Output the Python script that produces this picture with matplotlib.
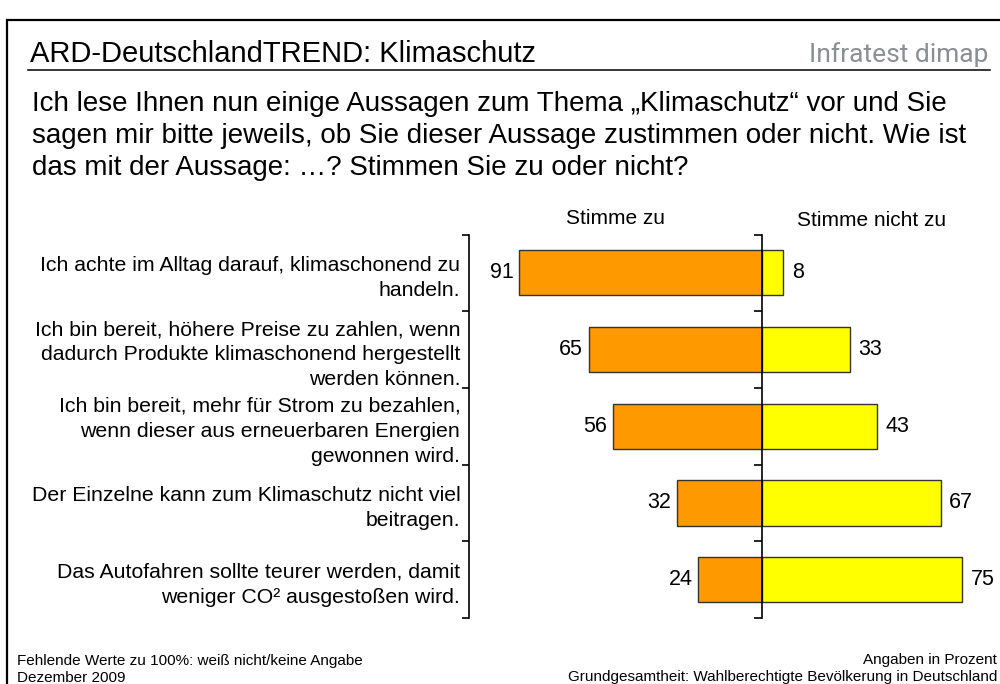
import numpy as np
import matplotlib.pyplot as plt
from matplotlib import font_manager
from matplotlib.patches import Rectangle
from matplotlib.lines import Line2D

# Zustimmung zu Aussagen zum Klimaschutz (Angaben in Prozent)
statements = [
    "Ich achte im Alltag darauf, klimaschonend zu\nhandeln.",
    "Ich bin bereit, höhere Preise zu zahlen, wenn\ndadurch Produkte klimaschonend hergestellt\nwerden können.",
    "Ich bin bereit, mehr für Strom zu bezahlen,\nwenn dieser aus erneuerbaren Energien\ngewonnen wird.",
    "Der Einzelne kann zum Klimaschutz nicht viel\nbeitragen.",
    "Das Autofahren sollte teurer werden, damit\nweniger CO² ausgestoßen wird.",
]
stimme_zu = [91, 65, 56, 32, 24]
stimme_nicht_zu = [8, 33, 43, 67, 75]

W, H = 1000, 684

def fx(x):
    return x / W

def fy(y):
    return 1 - y / H

names = {f.name for f in font_manager.fontManager.ttflist}
plt.rcParams['font.family'] = ['Liberation Sans', 'DejaVu Sans']

fig = plt.figure(figsize=(W / 100, H / 100), dpi=100)

# frame + header
fig.add_artist(Rectangle((fx(7), fy(720)), fx(1020), 700 / H, transform=fig.transFigure,
                         fill=False, edgecolor='black', lw=1.6, clip_on=False))
fig.text(fx(30), fy(62), "ARD-DeutschlandTREND: Klimaschutz", fontsize=21, va='baseline')
if "Liberation Sans Narrow" in names:
    logo = dict(family="Liberation Sans Narrow", fontsize=21)
else:
    logo = dict(family=["Roboto", "Liberation Sans"], fontweight='normal', fontsize=19)
fig.text(fx(988), fy(62), "Infratest dimap", va='baseline', ha='right', color='#8a8f94', **logo)
fig.add_artist(Line2D([fx(28), fx(990)], [fy(70), fy(70)], transform=fig.transFigure,
                      color='black', lw=1.1))
question = ("Ich lese Ihnen nun einige Aussagen zum Thema „Klimaschutz“ vor und Sie\n"
            "sagen mir bitte jeweils, ob Sie dieser Aussage zustimmen oder nicht. Wie ist\n"
            "das mit der Aussage: …? Stimmen Sie zu oder nicht?")
fig.text(fx(32), fy(91), question, fontsize=20, va='top', linespacing=1.3)

# chart
ax = fig.add_axes([fx(468.6), fy(618), fx(1000) - fx(468.6), (618 - 234.5) / H])
y = np.arange(len(statements))
ax.barh(y, [-v for v in stimme_zu], height=0.59, color='#FF9900', edgecolor='#333333', lw=1)
ax.barh(y, stimme_nicht_zu, height=0.59, color='#FFFF00', edgecolor='#333333', lw=1)
for yi, a, b in zip(y, stimme_zu, stimme_nicht_zu):
    ax.annotate(str(a), (-a, yi), xytext=(-4, 0), textcoords='offset points',
                ha='right', va='center', fontsize=15.5)
    ax.annotate(str(b), (b, yi), xytext=(6, 0), textcoords='offset points',
                ha='left', va='center', fontsize=15.5)

ax.set_xlim(-110, 89.2)
ax.set_ylim(len(statements) - 0.5, -0.5)
ax.set_yticks(y)
ax.set_yticklabels(statements, fontsize=15.3, linespacing=1.4)
ax.set_yticks(np.arange(len(statements) + 1) - 0.5, minor=True)
ax.tick_params(axis='y', which='major', length=0, pad=6)
ax.tick_params(axis='y', which='minor', length=5, width=1.2, direction='out')
ax.set_xticks([])
for s in ['top', 'right', 'bottom']:
    ax.spines[s].set_visible(False)
ax.spines['left'].set_linewidth(1.2)
ax.patch.set_alpha(0)

# centre line with its own ticks
ax0 = fig.add_axes([fx(762), fy(618), 0.01, (618 - 234.5) / H])
ax0.set_ylim(ax.get_ylim())
ax0.set_yticks(np.arange(len(statements) + 1) - 0.5)
ax0.set_yticklabels([])
ax0.tick_params(axis='y', length=6, width=1.2, direction='out')
ax0.set_xticks([])
for s in ['top', 'right', 'bottom']:
    ax0.spines[s].set_visible(False)
ax0.spines['left'].set_linewidth(1.2)
ax0.patch.set_alpha(0)

fig.text(fx(615), fy(219), "Stimme zu", fontsize=15, ha='center', va='center')
fig.text(fx(872), fy(220), "Stimme nicht zu", fontsize=15, ha='center', va='center')

# footer
fig.text(fx(17), fy(665), "Fehlende Werte zu 100%: weiß nicht/keine Angabe", fontsize=11, va='baseline')
fig.text(fx(17), fy(682), "Dezember 2009", fontsize=11, va='baseline')
fig.text(fx(997), fy(664), "Angaben in Prozent", fontsize=11, va='baseline', ha='right')
fig.text(fx(997), fy(681.5), "Grundgesamtheit: Wahlberechtigte Bevölkerung in Deutschland",
         fontsize=11, va='baseline', ha='right')

fig.savefig("out.png", dpi=100)
